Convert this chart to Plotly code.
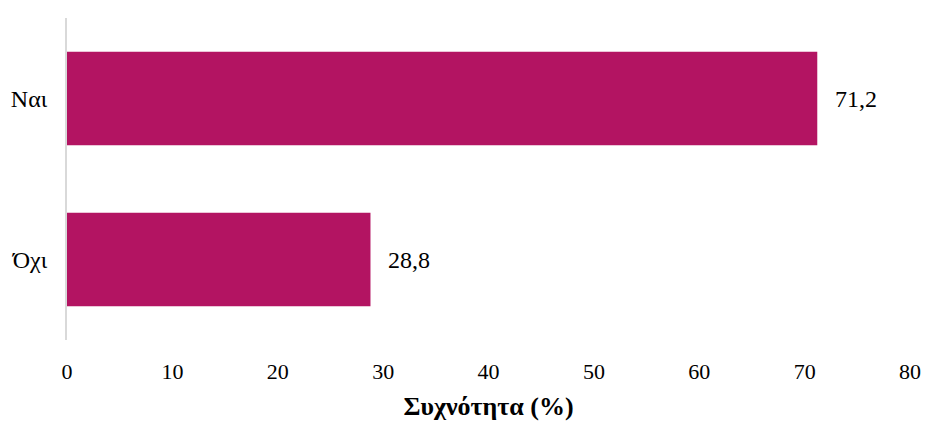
import plotly.graph_objects as go

categories = ["Ναι", "Όχι"]
values = [71.2, 28.8]
value_labels = ["71,2", "28,8"]
x_ticks = [0, 10, 20, 30, 40, 50, 60, 70, 80]
x_title = "Συχνότητα (%)"

FONT = "Liberation Serif"
BAR_COLOR = "#B31462"

fig = go.Figure()
fig.add_trace(go.Bar(
    x=values,
    y=categories,
    orientation="h",
    marker=dict(color=BAR_COLOR, line=dict(width=0)),
    hoverinfo="skip",
))

for v, c, t in zip(values, categories, value_labels):
    fig.add_annotation(x=v, y=c, text=t, showarrow=False, xanchor="left",
                       xshift=16, font=dict(family=FONT, size=24, color="#000000"))

fig.update_layout(
    width=926, height=421,
    margin=dict(l=67, r=16, t=18, b=81),
    paper_bgcolor="white", plot_bgcolor="white",
    bargap=0.42,
    showlegend=False,
    font=dict(family=FONT, size=22, color="#000000"),
)
fig.update_xaxes(
    range=[0, 80], tickvals=x_ticks, ticktext=[str(t) for t in x_ticks],
    showgrid=False, zeroline=False, showline=False, ticks="",
    ticklabelstandoff=16, automargin=False,
    title=dict(text="<b>" + x_title + "</b>", font=dict(family=FONT, size=26), standoff=13),
    tickfont=dict(family=FONT, size=22),
)
fig.update_yaxes(
    categoryorder="array", categoryarray=categories, autorange="reversed",
    showgrid=False, zeroline=False, showline=True, linecolor="#D9D9D9", linewidth=2,
    ticks="", ticklabelstandoff=13, automargin=False,
    tickfont=dict(family=FONT, size=24),
)

fig.write_html("out.html", config={"displayModeBar": False},
               post_script="document.body.style.margin='0';document.body.style.padding='0';")
